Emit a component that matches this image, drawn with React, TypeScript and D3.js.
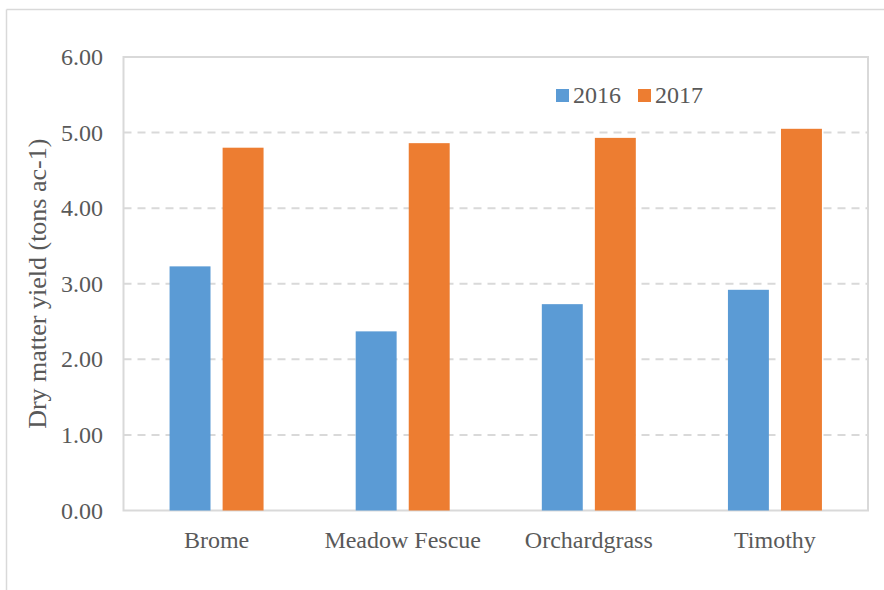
import { useRef, useEffect } from 'react';
import * as d3 from 'd3';

const categories = ['Brome', 'Meadow Fescue', 'Orchardgrass', 'Timothy'];
const years = ['2016', '2017'];
const values2016 = [3.23, 2.37, 2.73, 2.92];
const values2017 = [4.8, 4.86, 4.93, 5.05];
const yTicks = [0, 1, 2, 3, 4, 5, 6];
const colors = ['#5B9BD5', '#ED7D31'];

export default function App() {
  const svgRef = useRef<SVGSVGElement>(null);

  useEffect(() => {
    if (!svgRef.current) return;
    const svg = d3.select(svgRef.current);
    svg.selectAll('*').remove();

    const width = 884;
    const height = 590;
    const font = '"Liberation Serif", "Times New Roman", serif';
    const textColor = '#595959';
    const gridColor = '#d9d9d9';

    const plot = { left: 123.5, right: 868, top: 57, bottom: 510.5 };

    // outer chart border (only top and left visible)
    svg.append('line')
      .attr('x1', 6.5).attr('x2', width).attr('y1', 9.5).attr('y2', 9.5)
      .attr('stroke', gridColor).attr('stroke-width', 1.5);
    svg.append('line')
      .attr('x1', 6.5).attr('x2', 6.5).attr('y1', 9.5).attr('y2', height)
      .attr('stroke', gridColor).attr('stroke-width', 1.5);

    const x = d3.scaleBand<string>()
      .domain(categories)
      .range([plot.left, plot.right])
      .paddingInner(0)
      .paddingOuter(0);

    const y = d3.scaleLinear().domain([0, 6]).range([plot.bottom, plot.top]);

    // gridlines
    yTicks.filter((t) => t > 0 && t < 6).forEach((t) => {
      svg.append('line')
        .attr('x1', plot.left).attr('x2', plot.right)
        .attr('y1', y(t)).attr('y2', y(t))
        .attr('stroke', gridColor)
        .attr('stroke-width', 2)
        .attr('stroke-dasharray', '8,6');
    });

    // plot area border
    svg.append('rect')
      .attr('x', plot.left).attr('y', plot.top)
      .attr('width', plot.right - plot.left)
      .attr('height', plot.bottom - plot.top)
      .attr('fill', 'none')
      .attr('stroke', gridColor)
      .attr('stroke-width', 2);

    // bars
    const band = x.bandwidth();
    const barW = band * 0.22;
    const innerGap = band * 0.065;
    const offset = (band - 2 * barW - innerGap) / 2;
    const series = [values2016, values2017];

    series.forEach((vals, si) => {
      svg.append('g')
        .selectAll('rect')
        .data(vals)
        .join('rect')
        .attr('x', (_, i) => (x(categories[i]) as number) + offset + si * (barW + innerGap))
        .attr('y', (d) => y(d))
        .attr('width', barW)
        .attr('height', (d) => y(0) - y(d))
        .attr('fill', colors[si]);
    });

    // y tick labels
    svg.append('g')
      .selectAll('text')
      .data(yTicks)
      .join('text')
      .attr('x', 103)
      .attr('y', (d) => y(d) + 8)
      .attr('text-anchor', 'end')
      .attr('font-family', font)
      .attr('font-size', '24px')
      .attr('fill', textColor)
      .text((d) => d.toFixed(2));

    // category labels
    svg.append('g')
      .selectAll('text')
      .data(categories)
      .join('text')
      .attr('x', (d) => (x(d) as number) + band / 2)
      .attr('y', 548)
      .attr('text-anchor', 'middle')
      .attr('font-family', font)
      .attr('font-size', '24px')
      .attr('fill', textColor)
      .text((d) => d);

    // y axis title
    svg.append('text')
      .attr('transform', `translate(46,${(plot.top + plot.bottom) / 2}) rotate(-90)`)
      .attr('text-anchor', 'middle')
      .attr('font-family', font)
      .attr('font-size', '26px')
      .attr('fill', textColor)
      .text('Dry matter yield (tons ac-1)');

    // legend
    const legendX = [556, 638];
    years.forEach((yr, i) => {
      svg.append('rect')
        .attr('x', legendX[i]).attr('y', 89)
        .attr('width', 13).attr('height', 13)
        .attr('fill', colors[i]);
      svg.append('text')
        .attr('x', legendX[i] + 17)
        .attr('y', 103)
        .attr('font-family', font)
        .attr('font-size', '24px')
        .attr('fill', textColor)
        .text(yr);
    });
  }, []);

  return (
    <svg
      ref={svgRef}
      width={884}
      height={590}
      style={{ position: 'absolute', left: 0, top: 0, background: '#fff' }}
    />
  );
}
